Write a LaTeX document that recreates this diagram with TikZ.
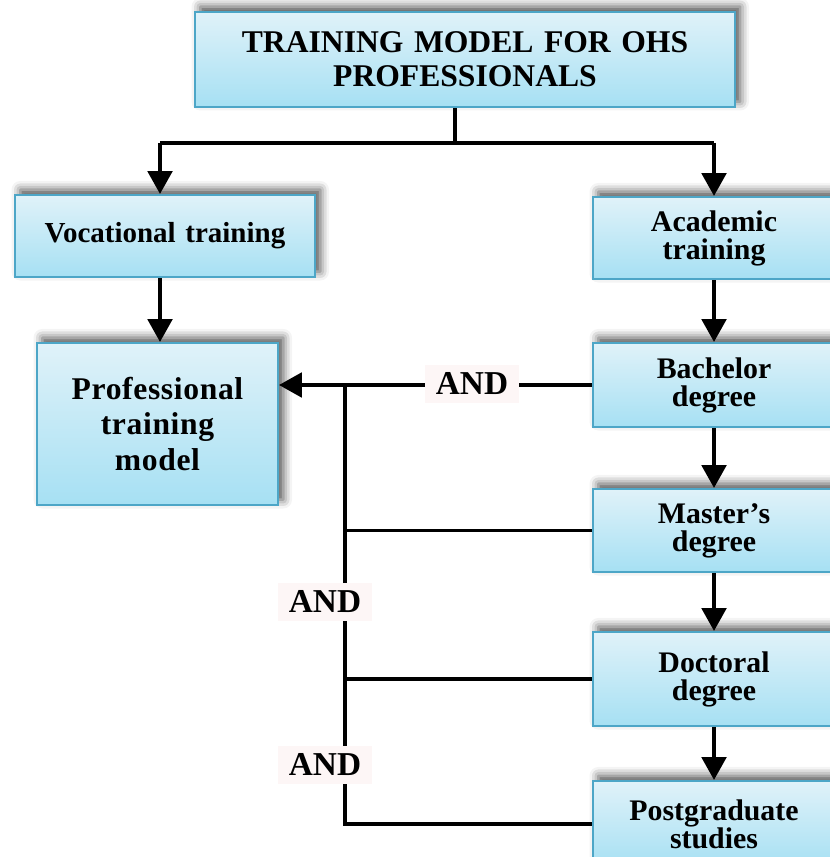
\documentclass[tikz,border=0pt]{standalone}
\usepackage{fontspec}
\setmainfont{Liberation Serif}
\newfontfamily\spacedfont[LetterSpace=2]{Liberation Serif}
\usetikzlibrary{arrows.meta,shadows.blur}
\definecolor{boxtop}{RGB}{224,242,249}
\definecolor{boxbottom}{RGB}{166,224,243}
\definecolor{boxline}{RGB}{77,166,199}
\definecolor{andpink}{RGB}{253,246,246}

\begin{document}
\begin{tikzpicture}[x=0.02cm,y=-0.02cm,
    box/.style={draw=boxline, line width=1.2pt, top color=boxtop, bottom color=boxbottom,
      blur shadow={shadow xshift=3pt, shadow yshift=3pt, shadow blur radius=5pt, shadow opacity=70},
      inner xsep=0pt, inner ysep=0pt, align=center},
    rbox/.style={box, text width=4.84cm, font=\fontsize{17}{16}\selectfont\bfseries},
    conn/.style={line width=1.9pt},
    arr/.style={conn, -{Triangle[width=14pt,length=13pt]}},
    andlabel/.style={fill=andpink, inner xsep=0.22cm, inner ysep=0.15cm, font=\fontsize{19}{20}\selectfont\bfseries}]
    \useasboundingbox (0,0) rectangle (829,857);

     \node[box, text width=10.8cm, minimum height=1.9cm, font=\fontsize{18}{19.5}\selectfont\bfseries] (title) at (465,59.5) {TRAINING MODEL FOR OHS\\PROFESSIONALS};
     \node[box, text width=6cm, minimum height=1.64cm, font=\fontsize{16.5}{18}\selectfont\bfseries] (voc) at (165,236) {Vocational training};
     \node[box, text width=4.82cm, minimum height=3.24cm, font=\fontsize{18}{20}\spacedfont\bfseries] (prof) at (157.5,424) {Professional\\training\\model};

     \node[rbox, minimum height=1.64cm] (acad) at (714,238) {Academic\\training};
     \node[rbox, minimum height=1.68cm] (bach) at (714,385) {Bachelor\\degree};
     \node[rbox, minimum height=1.66cm] (mast) at (714,530.5) {Master’s\\degree};
     \node[rbox, minimum height=1.88cm] (doct) at (714,679) {Doctoral\\degree};
     \node[rbox, minimum height=1.72cm] (post) at (714,824) {Postgraduate\\studies};

     \coordinate (split) at (455,143);
     \coordinate (vleft) at (160,143);
     \coordinate (vright) at (714,143);
     \draw[conn] (split |- title.south) -- (split);
     \draw[conn] (vleft) -- (vright);
     \draw[arr] (vleft) -- (vleft |- voc.north);
     \draw[arr] (vright) -- (acad.north);
     \draw[arr] (vleft |- voc.south) -- (vleft |- prof.north);

     \draw[arr] (acad.south) -- (bach.north);
     \draw[arr] (bach.south) -- (mast.north);
     \draw[arr] (mast.south) -- (doct.north);
     \draw[arr] (doct.south) -- (post.north);

     \coordinate (jtop) at (345,385);
     \draw[arr] (bach.west) -- (bach.west -| prof.east);
     \draw[conn] (jtop) -- (jtop |- post.west) -- (post.west);
     \draw[conn] (mast.west) -- (mast.west -| jtop);
     \draw[conn] (doct.west) -- (doct.west -| jtop);

     \node[andlabel] (and1) at (472,384) {AND};
     \node[andlabel] (and2) at (325,602) {AND};
     \node[andlabel] (and3) at (325,765) {AND};
\end{tikzpicture}
\end{document}
